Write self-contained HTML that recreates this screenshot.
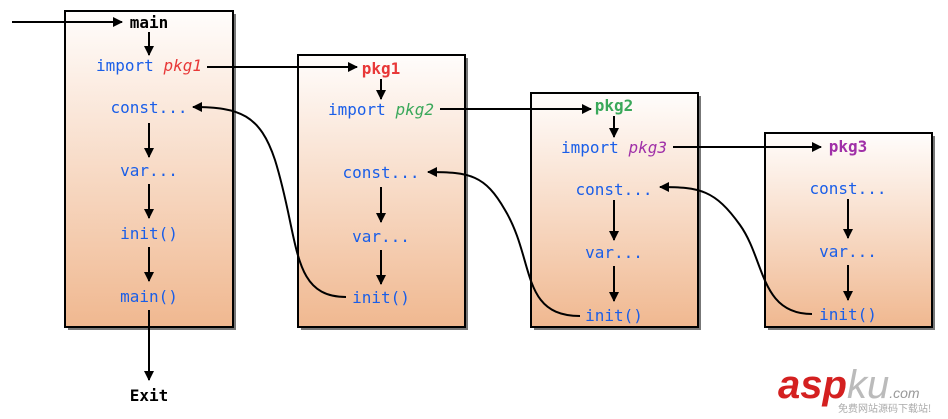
<html><body style="margin:0;background:#fff">
<svg width="948" height="419" xmlns="http://www.w3.org/2000/svg" style="font-family:'DejaVu Sans Mono','Liberation Mono',monospace;font-size:16px">
<defs>
<linearGradient id="g" x1="0" y1="0" x2="0" y2="1"><stop offset="0" stop-color="#fffdfc"/><stop offset="1" stop-color="#f0b890"/></linearGradient>
<marker id="a" markerWidth="10" markerHeight="10" refX="9" refY="5" orient="auto" markerUnits="userSpaceOnUse"><path d="M0,0 L10,5 L0,10 z" fill="#000"/></marker>
</defs>
<g fill="#777">
<rect x="68" y="14" width="168" height="316"/><rect x="301" y="58" width="167" height="272"/><rect x="534" y="96" width="167" height="234"/><rect x="768" y="136" width="167" height="194"/>
</g>
<g fill="url(#g)" stroke="#000" stroke-width="2">
<rect x="65" y="11" width="168" height="316"/><rect x="298" y="55" width="167" height="272"/><rect x="531" y="93" width="167" height="234"/><rect x="765" y="133" width="167" height="194"/>
</g>
<g stroke="#000" stroke-width="2" fill="none" marker-end="url(#a)">
<line x1="12" y1="22" x2="122" y2="22"/>
<line x1="149" y1="32" x2="149" y2="55"/>
<line x1="149" y1="123" x2="149" y2="157"/>
<line x1="149" y1="184" x2="149" y2="218"/>
<line x1="149" y1="247" x2="149" y2="281"/>
<line x1="149" y1="310" x2="149" y2="380"/>
<line x1="207" y1="67" x2="357" y2="67"/>
<line x1="381" y1="79" x2="381" y2="99"/>
<line x1="381" y1="187" x2="381" y2="222"/>
<line x1="381" y1="250" x2="381" y2="284"/>
<line x1="440" y1="109" x2="591" y2="109"/>
<line x1="614" y1="116" x2="614" y2="137"/>
<line x1="614" y1="200" x2="614" y2="240"/>
<line x1="614" y1="266" x2="614" y2="301"/>
<line x1="673" y1="147" x2="821" y2="147"/>
<line x1="848" y1="199" x2="848" y2="238"/>
<line x1="848" y1="265" x2="848" y2="300"/>
<path d="M346,297 C290,297 300,240 275,160 C260,115 240,107 193,107"/>
<path d="M580,316 C520,316 535,260 505,210 C485,175 470,172 428,172"/>
<path d="M812,314 C760,314 765,260 740,225 C715,190 700,187 660,187"/>
</g>
<g text-anchor="middle" fill="#1a5ee8">
<text x="149" y="28" fill="#000" font-weight="bold">main</text>
<text x="149" y="71">import <tspan fill="#e83838" font-style="italic">pkg1</tspan></text>
<text x="149" y="113">const...</text>
<text x="149" y="176">var...</text>
<text x="149" y="239">init()</text>
<text x="149" y="302">main()</text>
<text x="149" y="401" fill="#000" font-weight="bold">Exit</text>
<text x="381" y="74" fill="#e83838" font-weight="bold">pkg1</text>
<text x="381" y="115">import <tspan fill="#3aa85a" font-style="italic">pkg2</tspan></text>
<text x="381" y="178">const...</text>
<text x="381" y="242">var...</text>
<text x="381" y="303">init()</text>
<text x="614" y="111" fill="#3aa85a" font-weight="bold">pkg2</text>
<text x="614" y="153">import <tspan fill="#a030a8" font-style="italic">pkg3</tspan></text>
<text x="614" y="195">const...</text>
<text x="614" y="258">var...</text>
<text x="614" y="321">init()</text>
<text x="848" y="152" fill="#a030a8" font-weight="bold">pkg3</text>
<text x="848" y="194">const...</text>
<text x="848" y="257">var...</text>
<text x="848" y="320">init()</text>
</g>
<text x="778" y="398" font-family="'Liberation Sans',sans-serif" font-size="40" font-weight="bold" font-style="italic" fill="#d42020">asp<tspan fill="#bbb" font-weight="normal">ku</tspan><tspan font-size="14" fill="#999" font-weight="normal">.com</tspan></text>
<text x="838" y="412" font-family="'Noto Sans CJK SC',sans-serif" font-size="10" fill="#aaa">免费网站源码下载站!</text>
</svg>
</body></html>
